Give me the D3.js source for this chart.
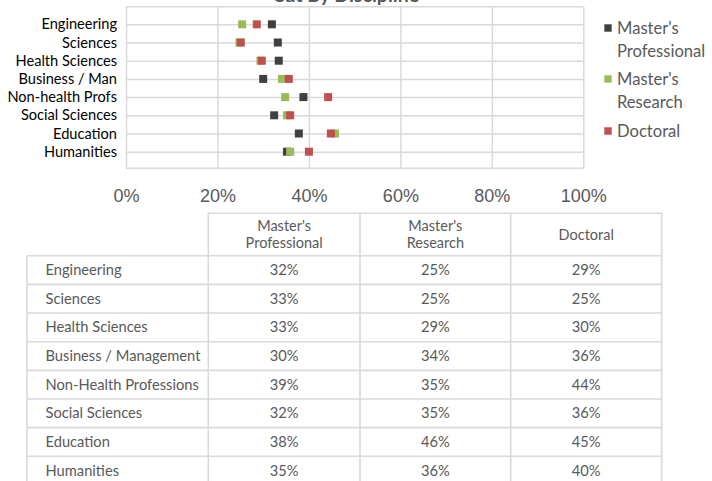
<!DOCTYPE html>
<html>
<head>
<meta charset="utf-8">
<script src="https://cdn.jsdelivr.net/npm/d3@7"></script>
<style>
  body { margin: 0; background: #fff; }
  svg { display: block; font-family: Lato, "Open Sans", sans-serif; }
  .grid line { stroke: #d9d9d9; stroke-width: 1.5px; }
  .grid path { display: none; }
  .xlab path, .xlab line { display: none; }
  .xlab text { fill: #595959; font-size: 18px; }
</style>
</head>
<body>
<script>
// ---- data ----
var categories = ["Engineering", "Sciences", "Health Sciences", "Business / Man",
                  "Non-health Profs", "Social Sciences", "Education", "Humanities"];
var tableLabels = ["Engineering", "Sciences", "Health Sciences", "Business / Management",
                   "Non-Health Professions", "Social Sciences", "Education", "Humanities"];
var seriesNames = ["Master's Professional", "Master's Research", "Doctoral"];
var masterProf = [31.9, 33.2, 33.4, 30.0, 38.8, 32.4, 37.8, 35.2];
var masterRes  = [25.4, 24.8, 29.4, 34.1, 34.8, 35.2, 45.7, 35.9];
var doctoral   = [28.6, 25.1, 29.7, 35.6, 44.2, 35.9, 44.8, 40.0];
var xTicks = [0, 20, 40, 60, 80, 100];

var colors = ["#404040", "#9bbb59", "#c0504d"];
var series = [masterProf, masterRes, doctoral];

// ---- layout ----
var W = 712, H = 481;
var plot = {left: 126, right: 583.3, top: 6.7, bottom: 168.3};

var svg = d3.select("body").append("svg")
    .attr("width", W)
    .attr("height", H);

var x = d3.scaleLinear().domain([0, 100]).range([plot.left, plot.right]);
var y = d3.scalePoint().domain(categories).range([24.3, 151.7]);

// vertical gridlines
svg.append("g")
    .attr("class", "grid")
    .attr("transform", "translate(0," + plot.bottom + ")")
    .call(d3.axisBottom(x).tickValues(xTicks).tickSize(-(plot.bottom - plot.top)).tickFormat(""));

// horizontal lines: category lines + top/bottom border
svg.append("g")
    .attr("class", "grid")
    .attr("transform", "translate(" + plot.left + ",0)")
    .call(d3.axisLeft(y).tickSize(-(plot.right - plot.left)).tickFormat(""));
svg.append("g").attr("class", "grid")
    .selectAll("line")
    .data([plot.top, plot.bottom])
    .join("line")
        .attr("x1", plot.left).attr("x2", plot.right)
        .attr("y1", function(d) { return d; })
        .attr("y2", function(d) { return d; });

// title (clipped at the top of the picture, as in the original)
svg.append("text")
    .text("Sat By Discipline")
    .attr("x", 347)
    .attr("y", 2)
    .attr("text-anchor", "middle")
    .attr("font-size", "19.5px")
    .attr("font-weight", "bold")
    .attr("fill", "#595959");

// category labels
svg.append("g")
    .selectAll("text")
    .data(categories)
    .join("text")
        .text(function(d) { return d; })
        .attr("x", 117)
        .attr("y", function(d) { return y(d); })
        .attr("dy", "0.35em")
        .attr("text-anchor", "end")
        .attr("font-size", "14.6px")
        .attr("fill", "#000");

// x tick labels
var xl = svg.append("g")
    .attr("class", "xlab")
    .attr("transform", "translate(0,186)")
    .call(d3.axisBottom(x).tickValues(xTicks).tickSize(0).tickFormat(function(d) { return d + "%"; }));
xl.selectAll("text").attr("font-family", null).attr("font-size", null);

// markers: dark first, then green, then red on top
var ms = 8;
series.forEach(function(vals, si) {
    svg.append("g")
        .selectAll("rect")
        .data(vals)
        .join("rect")
            .attr("x", function(d) { return x(d) - ms / 2; })
            .attr("y", function(d, i) { return y(categories[i]) - ms / 2; })
            .attr("width", ms)
            .attr("height", ms)
            .attr("fill", colors[si]);
});

// legend
var legendLines = [["Master's", "Professional"], ["Master's", "Research"], ["Doctoral"]];
var legendY = [28, 79, 131];
legendLines.forEach(function(lines, i) {
    svg.append("rect")
        .attr("x", 604.3).attr("y", legendY[i] - 3.7)
        .attr("width", 7.4).attr("height", 7.4)
        .attr("fill", colors[i]);
    lines.forEach(function(t, j) {
        svg.append("text")
            .text(t)
            .attr("x", 617)
            .attr("y", legendY[i] + j * 23)
            .attr("dy", "0.35em")
            .attr("font-size", "16.6px")
            .attr("fill", "#595959");
    });
});

// ---- data table ----
var colX = [27, 208.3, 360, 510.7, 661.7];
var headTop = 213.3, headBottom = 255.7, rowH = 28.66;
var pct = d3.format(".0f");
var tbl = svg.append("g");
var lineStyle = function(sel) { sel.attr("stroke", "#d9d9d9").attr("stroke-width", 1.6); };

// horizontal rules
tbl.append("line").attr("x1", colX[1]).attr("x2", colX[4]).attr("y1", headTop).attr("y2", headTop).call(lineStyle);
d3.range(tableLabels.length + 1).forEach(function(r) {
    var yy = headBottom + r * rowH;
    tbl.append("line").attr("x1", colX[0]).attr("x2", colX[4]).attr("y1", yy).attr("y2", yy).call(lineStyle);
});
// vertical rules
var tblBottom = headBottom + tableLabels.length * rowH;
tbl.append("line").attr("x1", colX[0]).attr("x2", colX[0]).attr("y1", headBottom).attr("y2", tblBottom).call(lineStyle);
colX.slice(1).forEach(function(cx) {
    tbl.append("line").attr("x1", cx).attr("x2", cx).attr("y1", headTop).attr("y2", tblBottom).call(lineStyle);
});

// header
var headerLines = [["Master's", "Professional"], ["Master's", "Research"], ["Doctoral"]];
headerLines.forEach(function(lines, c) {
    var cx = (colX[c + 1] + colX[c + 2]) / 2;
    var cy = (headTop + headBottom) / 2;
    lines.forEach(function(t, j) {
        tbl.append("text")
            .text(t)
            .attr("x", cx)
            .attr("y", cy + (j - (lines.length - 1) / 2) * 17)
            .attr("dy", "0.35em")
            .attr("text-anchor", "middle")
            .attr("font-size", "14.5px")
            .attr("fill", "#595959");
    });
});

// body rows
tableLabels.forEach(function(lab, r) {
    var cy = headBottom + r * rowH + rowH / 2;
    tbl.append("text")
        .text(lab)
        .attr("x", 45.5)
        .attr("y", cy)
        .attr("dy", "0.35em")
        .attr("font-size", "14.7px")
        .attr("fill", "#595959");
    series.forEach(function(vals, c) {
        tbl.append("text")
            .text(pct(vals[r]) + "%")
            .attr("x", (colX[c + 1] + colX[c + 2]) / 2)
            .attr("y", cy)
            .attr("dy", "0.35em")
            .attr("text-anchor", "middle")
            .attr("font-size", "14.7px")
            .attr("fill", "#595959");
    });
});
</script>
</body>
</html>
